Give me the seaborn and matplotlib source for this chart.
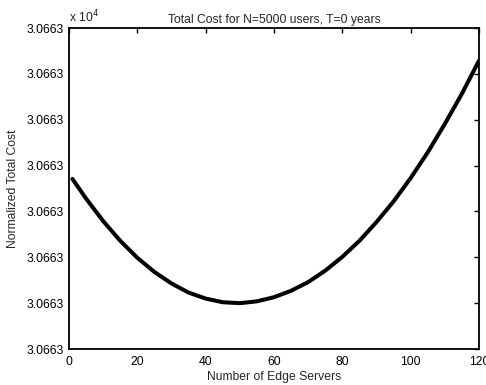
import matplotlib
matplotlib.use("Agg")
import matplotlib.pyplot as plt
import seaborn as sns
import pandas as pd
from matplotlib.ticker import FuncFormatter

servers = [1, 5, 10, 15, 20, 25, 30, 35, 40, 45, 50, 55, 60, 65, 70, 75,
           80, 85, 90, 95, 100, 105, 110, 115, 120]
cost = [30663.0371, 30663.0328, 30663.0279, 30663.0236, 30663.0199,
        30663.0168, 30663.0143, 30663.0123, 30663.0110, 30663.0102,
        30663.0100, 30663.0104, 30663.0113, 30663.0127, 30663.0146,
        30663.0171, 30663.0201, 30663.0236, 30663.0277, 30663.0322,
        30663.0373, 30663.0429, 30663.0491, 30663.0557, 30663.0629]
y_ticks = [30663.00, 30663.01, 30663.02, 30663.03, 30663.04, 30663.05,
           30663.06, 30663.07]
x_ticks = [0, 20, 40, 60, 80, 100, 120]
title = "Total Cost for N=5000 users, T=0 years"
xlabel = "Number of Edge Servers"
ylabel = "Normalized Total Cost"

sns.set_style("white")
plt.rcParams["font.family"] = ["Liberation Sans", "DejaVu Sans"]
fs = 8.7
plt.rcParams["font.size"] = fs

df = pd.DataFrame({"servers": servers, "cost": cost})

fig = plt.figure(figsize=(4.86, 3.85), dpi=100)
ax = fig.add_axes([0.142, 0.0935, 0.8436, 0.8335])
sns.lineplot(data=df, x="servers", y="cost", ax=ax, color="black",
             linewidth=2.9, errorbar=None, solid_joinstyle="round",
             solid_capstyle="round")

ax.set_xlim(0, 120)
ax.set_ylim(y_ticks[0], y_ticks[-1])
ax.set_xticks(x_ticks)
ax.set_yticks(y_ticks)
ax.yaxis.set_major_formatter(FuncFormatter(lambda v, p: f"{v/1e4:.4f}"))
ax.tick_params(direction="in", length=3.5, width=1, top=True, right=True,
               labelsize=fs, colors="black", pad=5)
ax.tick_params(axis="y", pad=4)
for s in ax.spines.values():
    s.set_visible(True)
    s.set_color("black")
    s.set_linewidth(1.3)

ax.set_title(title, fontsize=fs, pad=4)
ax.set_xlabel(xlabel, fontsize=fs, labelpad=2)
ax.set_ylabel(ylabel, fontsize=fs, labelpad=5)
ax.text(0.0, 1.01, r"x 10$^{4}$", transform=ax.transAxes, fontsize=fs,
        ha="left", va="bottom")

fig.savefig("out.png", dpi=100)
